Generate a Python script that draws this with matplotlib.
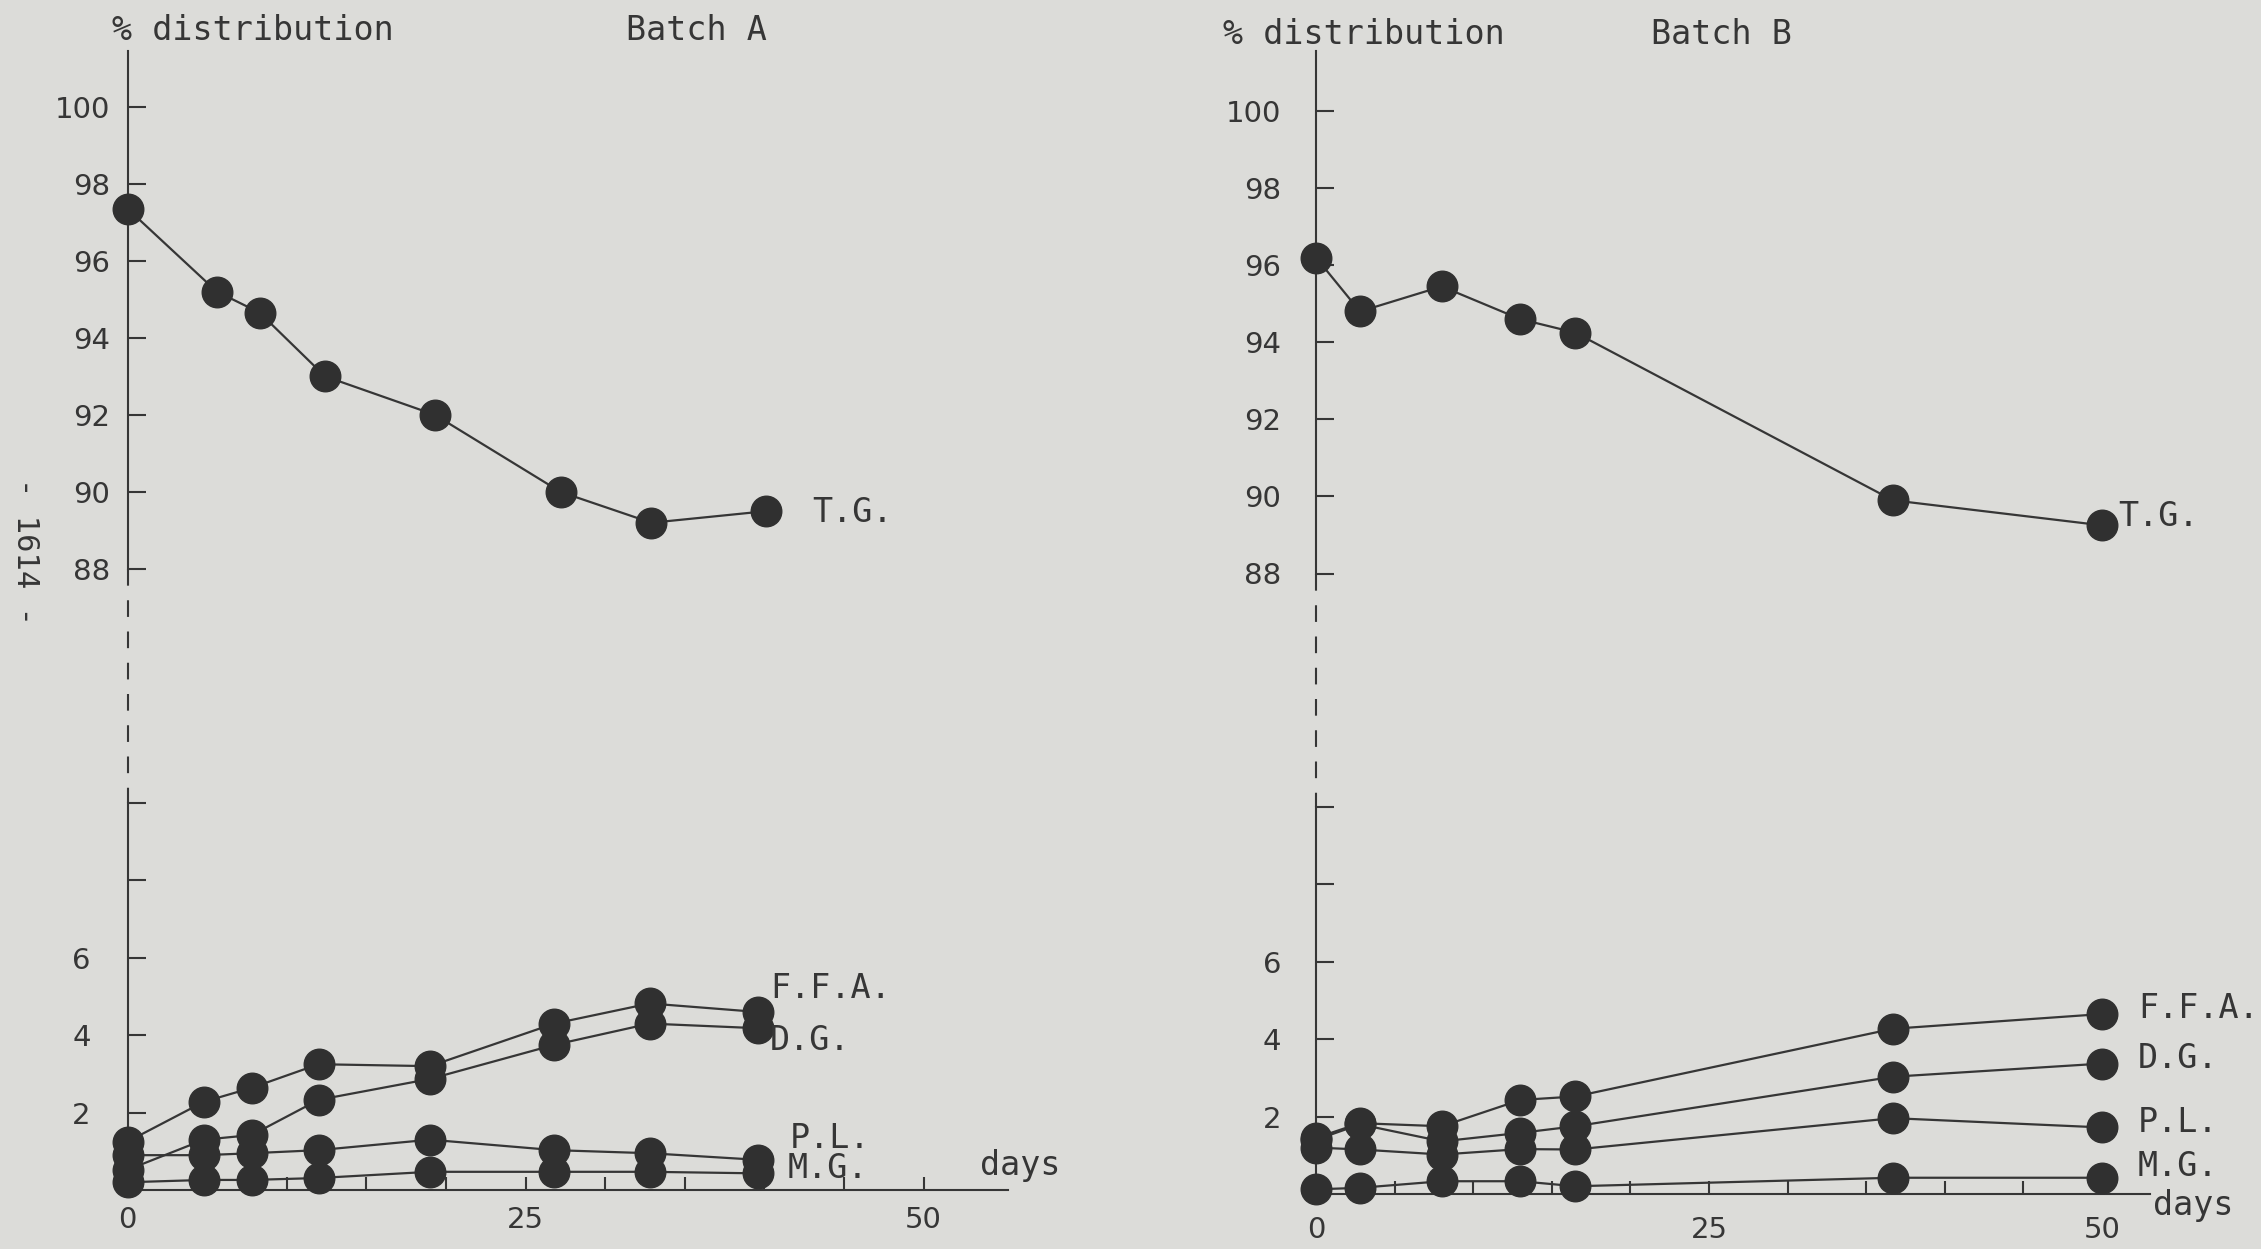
import numpy as np
import matplotlib.pyplot as plt
from matplotlib.lines import Line2D

# --- data ---
# Batch A
days_a_tg = [0, 5.6, 8.3, 12.4, 19.3, 27.2, 32.9, 40.1]
tg_a = [97.35, 95.2, 94.65, 93.0, 92.0, 90.0, 89.2, 89.5]
days_a = [0, 4.8, 7.8, 12.0, 19.0, 26.8, 32.8, 39.6]
ffa_a = [1.25, 2.28, 2.64, 3.25, 3.2, 4.3, 4.82, 4.6]
dg_a = [0.52, 1.3, 1.42, 2.33, 2.87, 3.75, 4.3, 4.18]
pl_a = [0.9, 0.9, 0.95, 1.03, 1.3, 1.03, 0.95, 0.78]
mg_a = [0.2, 0.26, 0.26, 0.31, 0.47, 0.47, 0.47, 0.43]

# Batch B
days_b = [0, 2.8, 8.0, 13.0, 16.5, 36.7, 50.0]
tg_b = [96.2, 94.8, 95.45, 94.6, 94.25, 89.9, 89.25]
ffa_b = [1.45, 1.83, 1.75, 2.43, 2.52, 4.27, 4.65]
dg_b = [1.4, 1.8, 1.36, 1.58, 1.75, 3.03, 3.37]
pl_b = [1.2, 1.15, 1.02, 1.16, 1.15, 1.96, 1.72]
mg_b = [0.12, 0.16, 0.33, 0.33, 0.2, 0.42, 0.42]

upper_ticks = [88, 90, 92, 94, 96, 98, 100]
lower_ticks = [2, 4, 6, 8, 10]
lower_ticklabels = ['2', '4', '6', '', '']
x_ticks = list(range(0, 55, 5))
x_ticklabels = ['0', '', '', '', '', '25', '', '', '', '', '50']

W, H = 2261, 1249
paper = '#dcdcd9'
ink = '#363636'
mono = 'DejaVu Sans Mono'

fig = plt.figure(figsize=(W / 100, H / 100), dpi=100)
fig.patch.set_facecolor(paper)


def box(left, right, top, bottom):
    return [left / W, 1 - bottom / H, (right - left) / W, (bottom - top) / H]


def series(ax, x, y):
    ax.plot(x, y, color=ink, lw=1.6, marker='o', markersize=22,
            mfc='#303030', mec='#303030', clip_on=False, zorder=5)


def panel(x0, x1, xmax, up_top, up_bot, lo_top, lo_bot, ymax, ypad_up, ypad_lo, xpad):
    ax_up = fig.add_axes(box(x0, x1, up_top, up_bot))
    ax_lo = fig.add_axes(box(x0, x1, lo_top, lo_bot))
    for ax in (ax_up, ax_lo):
        ax.set_facecolor('none')
        ax.set_xlim(0, xmax)
        for s in ('top', 'right'):
            ax.spines[s].set_visible(False)
        ax.spines['left'].set_linewidth(1.5)
        ax.spines['left'].set_color(ink)
    ax_up.spines['bottom'].set_visible(False)
    ax_up.xaxis.set_visible(False)
    ax_up.set_ylim(88, ymax)
    ax_up.set_yticks(upper_ticks)
    ax_up.tick_params(axis='y', direction='in', length=13, width=1.5, color=ink,
                      labelsize=21, labelcolor=ink, pad=ypad_up)

    ax_lo.set_ylim(0, 10)
    ax_lo.set_yticks(lower_ticks)
    ax_lo.set_yticklabels(lower_ticklabels)
    ax_lo.tick_params(axis='y', direction='in', length=13, width=1.5, color=ink,
                      labelsize=21, labelcolor=ink, pad=ypad_lo)
    ax_lo.spines['bottom'].set_linewidth(1.5)
    ax_lo.spines['bottom'].set_color(ink)
    ax_lo.set_xticks(x_ticks)
    ax_lo.set_xticklabels(x_ticklabels)
    ax_lo.tick_params(axis='x', direction='in', length=9.5, width=1.5, color=ink,
                      labelsize=21, labelcolor=ink, pad=xpad)

    # dashed break of the y axis between 88 and 10
    fig.add_artist(Line2D([x0 / W, x0 / W], [1 - up_bot / H, 1 - lo_top / H],
                          transform=fig.transFigure, color=ink, lw=1.5,
                          linestyle=(0, (8, 7))))
    return ax_up, ax_lo


def label(px, py, s, **kw):
    fig.text(px / W, 1 - py / H, s, fontsize=24, family=mono, color=ink,
             va='center', ha='left', **kw)


# Batch A
upA, loA = panel(127.5, 1008, 55.3, 51, 569, 803, 1190, 101.44, 12.5, 26.5, 11.5)
series(upA, days_a_tg, tg_a)
for vals in (ffa_a, dg_a, pl_a, mg_a):
    series(loA, days_a, vals)

# Batch B
upB, loB = panel(1316, 2150, 53.05, 51, 573.5, 807, 1194, 101.56, 25, 25, 16)
series(upB, days_b, tg_b)
for vals in (ffa_b, dg_b, pl_b, mg_b):
    series(loB, days_b, vals)

# typed annotations
label(112, 30, '% distribution')
label(626, 30, 'Batch A')
label(812, 512, 'T.G.')
label(770, 988, 'F.F.A.')
label(770, 1040, 'D.G.')
label(790, 1138, 'P.L.')
label(788, 1168, 'M.G.')
label(980, 1166, 'days')

label(1223, 35, '% distribution')
label(1651, 35, 'Batch B')
label(2118, 516, 'T.G.')
label(2138, 1008, 'F.F.A.')
label(2138, 1058, 'D.G.')
label(2138, 1123, 'P.L.')
label(2138, 1166, 'M.G.')
label(2153, 1205, 'days')

fig.text(25 / W, 1 - 552 / H, '- 1614 -', fontsize=22, family=mono, color=ink,
         rotation=-90, va='center', ha='center')

fig.savefig('out.png', dpi=100, facecolor=fig.get_facecolor())
